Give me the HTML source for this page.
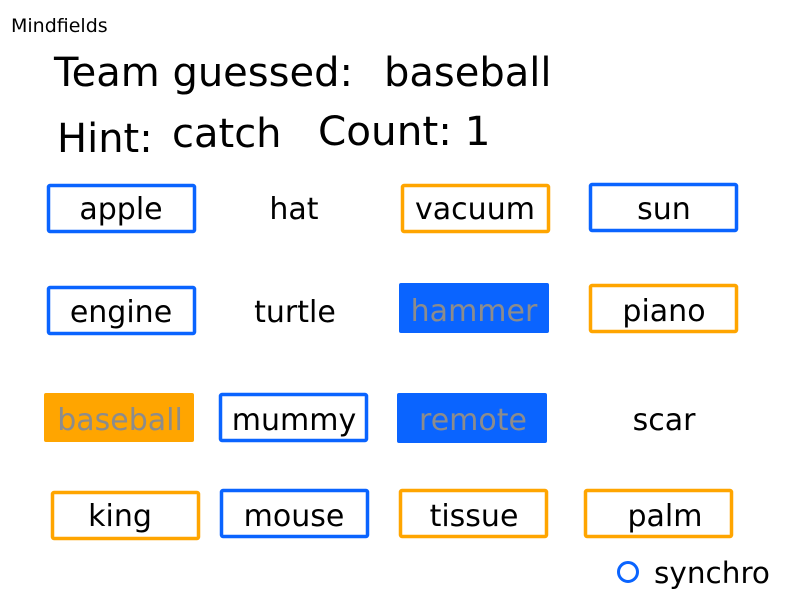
<!DOCTYPE html>
<html><head><meta charset="utf-8"><style>
html,body{margin:0;padding:0;background:#fff}
svg{display:block}
text{font-family:"DejaVu Sans","Liberation Sans",sans-serif}
</style></head><body>
<svg width="800" height="600" xmlns="http://www.w3.org/2000/svg">
<text x="11" y="32" font-size="19">Mindfields</text>
<text x="54" y="86" font-size="40">Team guessed:</text>
<text x="384" y="86" font-size="40">baseball</text>
<text x="57" y="152" font-size="40">Hint:</text>
<text x="172" y="147" font-size="40">catch</text>
<text x="318" y="145" font-size="40.5">Count: 1</text>
<g fill="none" stroke-width="3.5">
<rect x="48.5" y="185.5" width="146" height="46" rx="1.5" stroke="#0a64ff"/>
<rect x="402.5" y="185.5" width="146" height="46" rx="1.5" stroke="#ffa500"/>
<rect x="590.5" y="184.5" width="146" height="46" rx="1.5" stroke="#0a64ff"/>
<rect x="48.5" y="287.5" width="146" height="46" rx="1.5" stroke="#0a64ff"/>
<rect x="590.5" y="285.5" width="146" height="46" rx="1.5" stroke="#ffa500"/>
<rect x="220.5" y="394.5" width="146" height="46" rx="1.5" stroke="#0a64ff"/>
<rect x="52.5" y="492.5" width="146" height="46" rx="1.5" stroke="#ffa500"/>
<rect x="221.5" y="490.5" width="146" height="46" rx="1.5" stroke="#0a64ff"/>
<rect x="400.5" y="490.5" width="146" height="46" rx="1.5" stroke="#ffa500"/>
<rect x="585.5" y="490.5" width="146" height="46" rx="1.5" stroke="#ffa500"/>
</g>
<rect x="399" y="283" width="150" height="50" rx="2" fill="#0a64ff"/>
<rect x="44" y="393" width="150" height="49" rx="2" fill="#ffa500"/>
<rect x="397" y="393" width="150" height="50" rx="2" fill="#0a64ff"/>
<g font-size="30" text-anchor="middle">
<text x="121" y="219">apple</text>
<text x="294" y="219">hat</text>
<text x="475" y="219">vacuum</text>
<text x="664" y="219">sun</text>
<text x="121" y="322">engine</text>
<text x="295" y="322">turtle</text>
<text x="474" y="321" fill="#8c8c8c">hammer</text>
<text x="664" y="321">piano</text>
<text x="120" y="430" fill="#8c8c8c">baseball</text>
<text x="294" y="430">mummy</text>
<text x="473" y="430" fill="#8c8c8c">remote</text>
<text x="664" y="430">scar</text>
<text x="120" y="526">king</text>
<text x="294" y="526">mouse</text>
<text x="474" y="526">tissue</text>
<text x="665" y="526">palm</text>
</g>
<circle cx="628" cy="572" r="9.5" fill="none" stroke="#0a64ff" stroke-width="3"/>
<text x="654" y="583" font-size="29.5">synchro</text>
</svg>
</body></html>
